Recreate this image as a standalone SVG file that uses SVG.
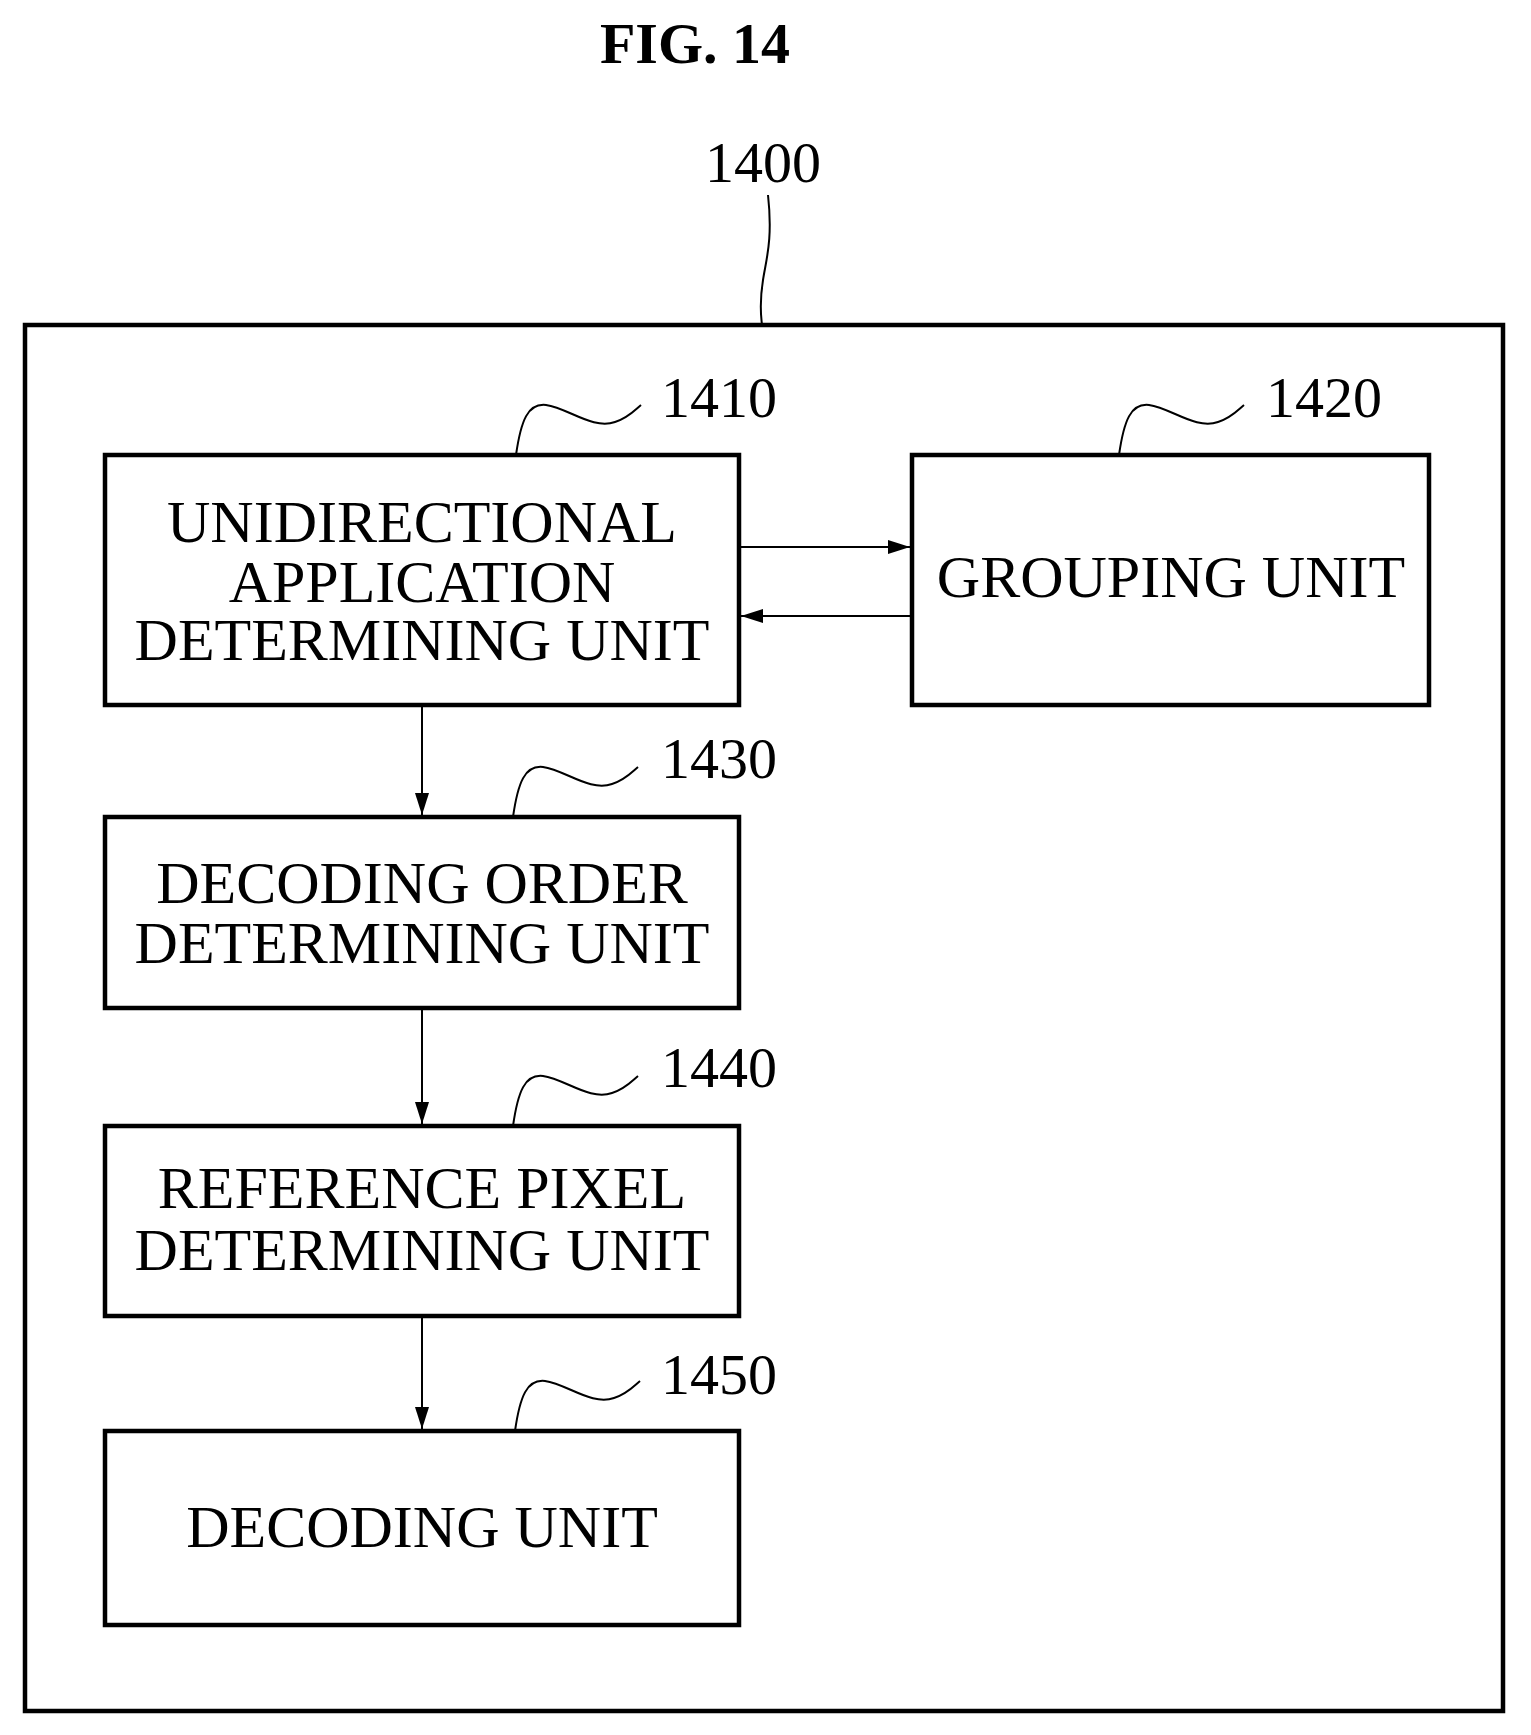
<svg xmlns="http://www.w3.org/2000/svg" width="1531" height="1735" viewBox="0 0 1531 1735">
<style>
.box{fill:#fff;stroke:#000;stroke-width:4.5}
.t{font-family:"Liberation Serif",serif;font-size:60px;text-anchor:middle;fill:#000}
.n{font-family:"Liberation Serif",serif;font-size:58px;fill:#000}
.ld{fill:none;stroke:#000;stroke-width:2}
.c{stroke:#000;stroke-width:2;fill:none}
</style>
<defs>
<marker id="ah" viewBox="0 0 22 14" refX="22" refY="7" markerWidth="22" markerHeight="14" markerUnits="userSpaceOnUse" orient="auto"><path d="M0,0 L22,7 L0,14 Z" fill="#000"/></marker>
</defs>
<rect width="1531" height="1735" fill="#fff"/>
<text x="695" y="63" class="t" style="font-weight:bold;font-size:58px">FIG. 14</text>
<g id="n1400">
<rect x="25" y="325" width="1478" height="1386" class="box"/>
<text x="763" y="182" class="n" text-anchor="middle">1400</text>
<path class="ld" transform="translate(-9,0)" d="M777,195 C782,240 775,260 772,280 C768,305 770,315 771,325"/>
</g>
<g id="n1410">
<rect x="105" y="455" width="634" height="250" class="box"/>
<text x="422" y="542" class="t">UNIDIRECTIONAL</text>
<text x="422" y="602" class="t">APPLICATION</text>
<text x="422" y="660" class="t">DETERMINING UNIT</text>
<path class="ld" transform="translate(-7,0)" d="M523,455 C528,420 535,403 553,405 C575,408 600,430 622,422 C635,418 642,410 648,405"/>
<text x="661" y="417" class="n">1410</text>
</g>
<g id="n1420">
<rect x="912" y="455" width="517" height="250" class="box"/>
<text x="1171" y="597" class="t">GROUPING UNIT</text>
<path class="ld" transform="translate(-14,0)" d="M1133,455 C1138,420 1145,403 1163,405 C1185,408 1210,430 1232,422 C1245,418 1252,410 1258,405"/>
<text x="1266" y="417" class="n">1420</text>
</g>
<g id="n1430">
<rect x="105" y="817" width="634" height="191" class="box"/>
<text x="422" y="903" class="t">DECODING ORDER</text>
<text x="422" y="963" class="t">DETERMINING UNIT</text>
<path class="ld" transform="translate(-6,0)" d="M519,817 C524,782 531,765 549,767 C571,770 596,792 618,784 C631,780 638,772 644,767"/>
<text x="661" y="778" class="n">1430</text>
</g>
<g id="n1440">
<rect x="105" y="1126" width="634" height="190" class="box"/>
<text x="422" y="1208" class="t">REFERENCE PIXEL</text>
<text x="422" y="1270" class="t">DETERMINING UNIT</text>
<path class="ld" transform="translate(-6,0)" d="M519,1126 C524,1091 531,1074 549,1076 C571,1079 596,1101 618,1093 C631,1089 638,1081 644,1076"/>
<text x="661" y="1087" class="n">1440</text>
</g>
<g id="n1450">
<rect x="105" y="1431" width="634" height="194" class="box"/>
<text x="422" y="1547" class="t">DECODING UNIT</text>
<path class="ld" transform="translate(-7,0)" d="M522,1431 C527,1396 534,1379 552,1381 C574,1384 599,1406 621,1398 C634,1394 641,1386 647,1381"/>
<text x="661" y="1394" class="n">1450</text>
</g>
<g id="connectors">
<line class="c" x1="741" y1="547" x2="910" y2="547" marker-end="url(#ah)"/>
<line class="c" x1="910" y1="616" x2="741" y2="616" marker-end="url(#ah)"/>
<line class="c" x1="422" y1="707" x2="422" y2="815" marker-end="url(#ah)"/>
<line class="c" x1="422" y1="1010" x2="422" y2="1124" marker-end="url(#ah)"/>
<line class="c" x1="422" y1="1318" x2="422" y2="1429" marker-end="url(#ah)"/>
</g>
</svg>
